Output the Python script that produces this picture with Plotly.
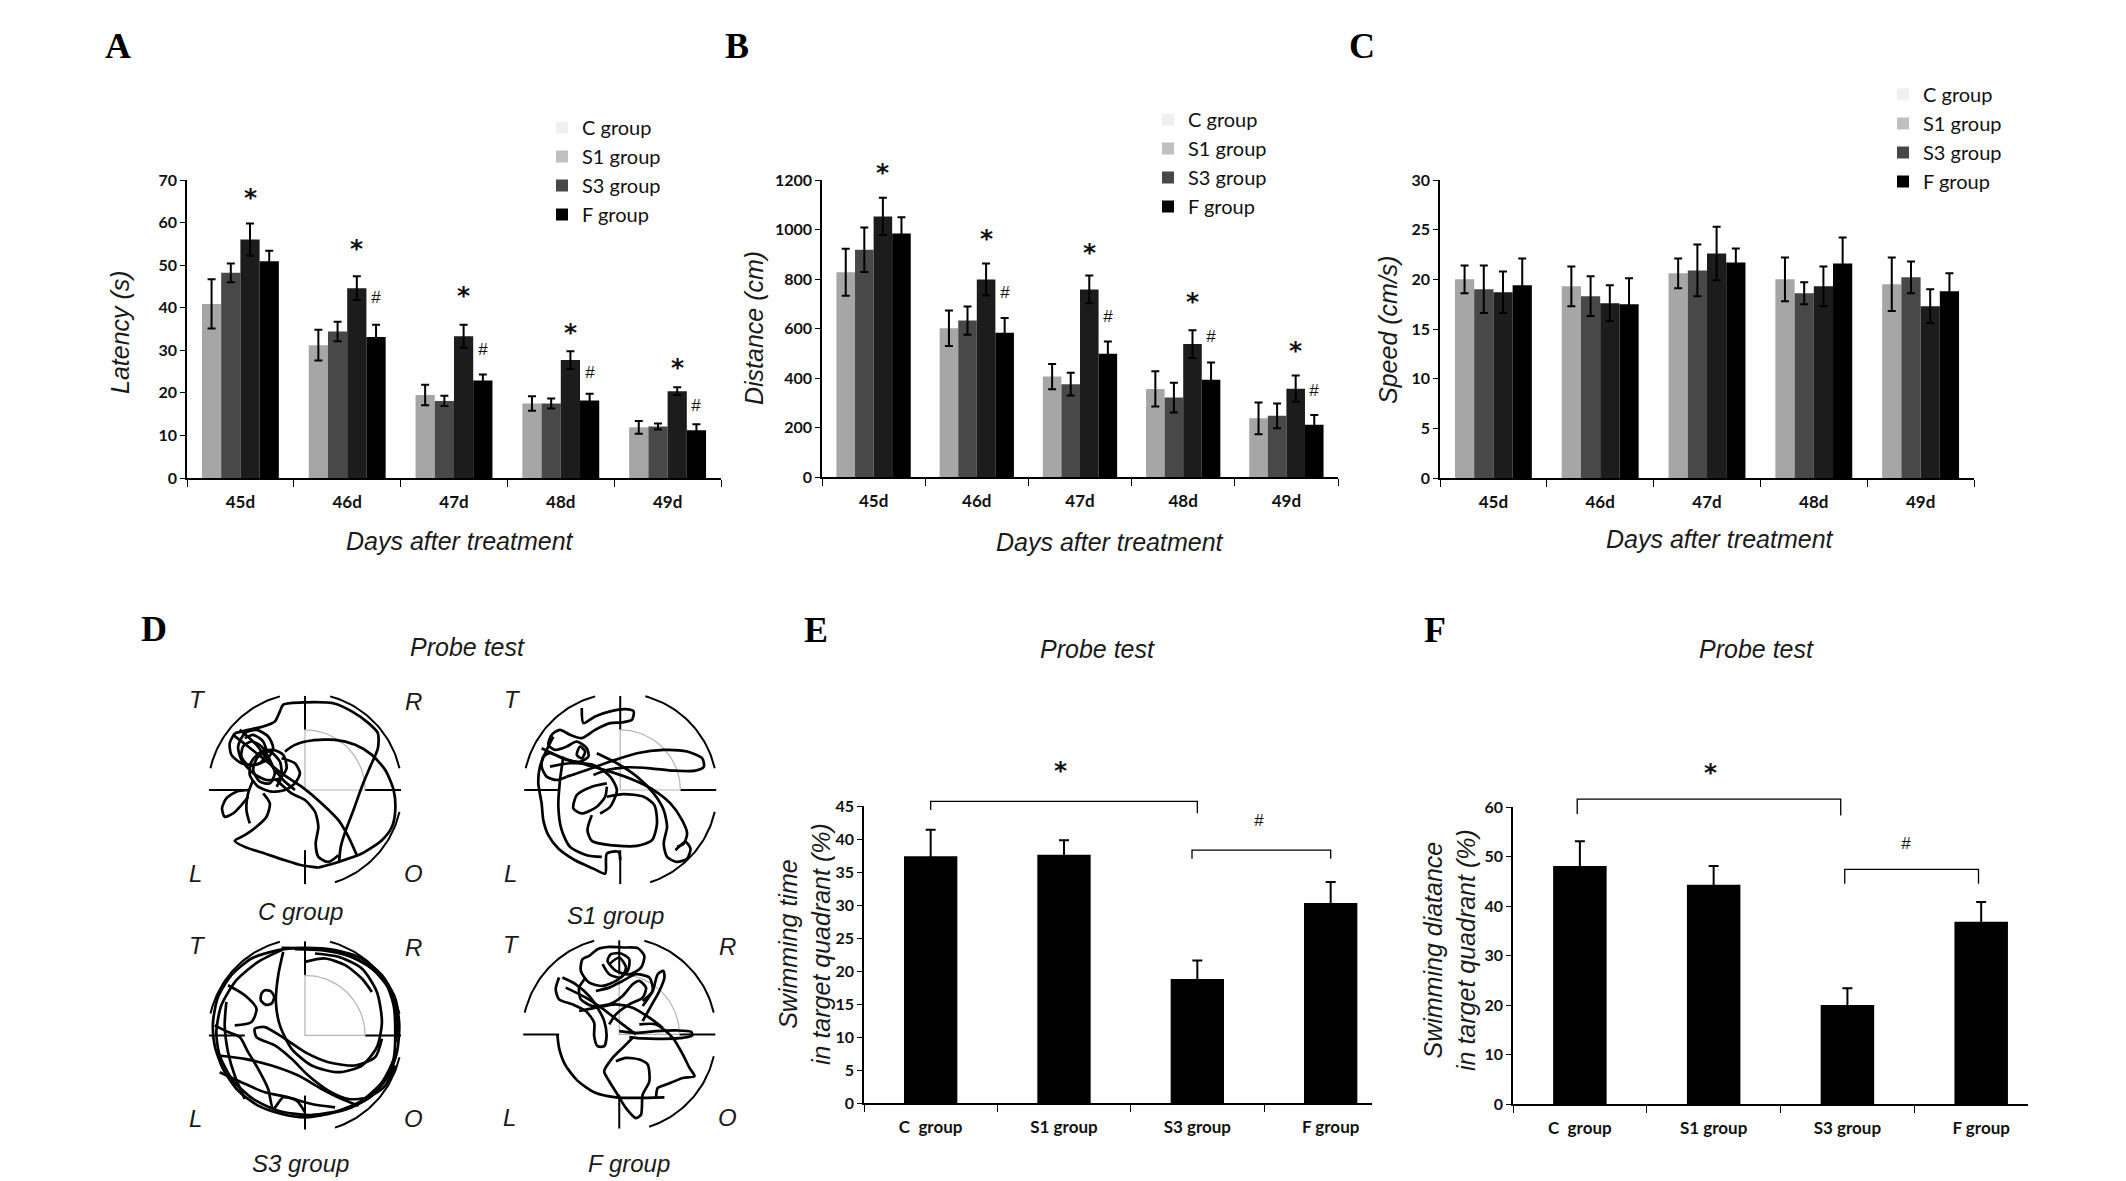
import numpy as np
import plotly.graph_objects as go

W, H = 2126, 1181

days = ["45d", "46d", "47d", "48d", "49d"]
groups = ["C group", "S1 group", "S3 group", "F group"]
probe_labels = ["C\u00a0 group", "S1 group", "S3 group", "F group"]

bar_colors = ["#a6a6a6", "#484848", "#1c1c1c", "#000000"]
legend_colors = ["#f0f0f0", "#c0c0c0", "#474747", "#000000"]

# panel A - latency (s), one list per bar of a day cluster
latency = [
    [40.9, 31.2, 19.5, 17.5, 11.9],
    [48.2, 34.4, 18.1, 17.5, 12.1],
    [56.0, 44.6, 33.3, 27.7, 20.4],
    [50.9, 33.1, 22.9, 18.2, 11.2],
]
latency_err = [
    [5.8, 3.6, 2.4, 1.7, 1.5],
    [2.2, 2.3, 1.2, 1.2, 0.7],
    [3.8, 2.8, 2.7, 2.1, 0.9],
    [2.5, 2.9, 1.4, 1.6, 1.4],
]
latency_star = [66.0, 54.0, 42.8, 34.1, 26.0]
latency_hash = [None, 42.4, 30.1, 24.8, 17.1]

# panel B - distance (cm)
distance = [
    [827, 601, 406, 356, 237],
    [918, 632, 375, 321, 247],
    [1053, 798, 758, 537, 357],
    [984, 583, 498, 393, 211],
]
distance_err = [
    [95, 72, 51, 71, 64],
    [90, 57, 46, 60, 50],
    [75, 65, 56, 56, 53],
    [65, 59, 49, 70, 40],
]
distance_star = [1229, 964, 908, 709, 513]
distance_hash = [None, 744, 649, 566, 350]

# panel C - speed (cm/s)
speed = [
    [20.0, 19.3, 20.6, 20.0, 19.5],
    [19.0, 18.3, 20.9, 18.6, 20.2],
    [18.7, 17.6, 22.6, 19.3, 17.3],
    [19.4, 17.5, 21.7, 21.6, 18.8],
]
speed_err = [
    [1.4, 2.0, 1.5, 2.2, 2.7],
    [2.4, 2.0, 2.6, 1.1, 1.6],
    [2.1, 1.8, 2.7, 2.0, 1.7],
    [2.7, 2.6, 1.4, 2.6, 1.8],
]

# panel E / F - probe test
probe_time = [37.4, 37.6, 18.8, 30.3]
probe_time_err = [4.0, 2.2, 2.8, 3.2]
probe_dist = [48.1, 44.3, 20.0, 36.8]
probe_dist_err = [5.0, 3.8, 3.4, 4.0]

time_star_x, time_star_y = [0, 0, 2, 2], [44.4, 45.7, 45.7, 43.9]
time_hash_x, time_hash_y = [1.96, 1.96, 3, 3], [37.0, 38.3, 38.3, 37.0]
time_marks = [("*", 0.97, 50.4), ("#", 2.46, 42.8)]
dist_star_x, dist_star_y = [-0.02, -0.02, 1.95, 1.95], [58.6, 61.6, 61.6, 58.3]
dist_hash_x, dist_hash_y = [1.98, 1.98, 2.98, 2.98], [44.5, 47.4, 47.4, 44.5]
dist_marks = [("*", 0.98, 66.9), ("#", 2.44, 52.6)]

# panel D - swim paths (image px, pool centre 330,330, wall radius 290)
path_c = [
    [(120, 160), (160, 150), (205, 140), (240, 125), (255, 95), (265, 75), (330, 68), (420, 72), (470, 95),
     (520, 130), (548, 160), (548, 205), (525, 260), (500, 320), (475, 390), (452, 450), (437, 500), (432, 545)],
    [(120, 160), (105, 190), (110, 225), (140, 250), (180, 255), (215, 240), (235, 205), (220, 170), (185, 150),
     (150, 160), (130, 200), (140, 240), (175, 280), (215, 300), (255, 295), (275, 265), (265, 225), (235, 210),
     (200, 215), (170, 245), (165, 285), (190, 320), (230, 335), (270, 330), (300, 310), (315, 280), (300, 250),
     (260, 235)],
    [(150, 175), (175, 165), (205, 185), (215, 220), (195, 250), (160, 255), (140, 230), (145, 200), (170, 185),
     (200, 200), (225, 240), (240, 280), (225, 310), (195, 305), (175, 270), (190, 230), (225, 215), (255, 245),
     (260, 290), (245, 320)],
    [(115, 165), (160, 200), (210, 240), (260, 280), (320, 320), (380, 370), (430, 420), (460, 470), (485, 525)],
    [(135, 150), (185, 195), (225, 250), (265, 300), (300, 330)],
    [(270, 215), (300, 195), (350, 182), (420, 180), (480, 195), (530, 225), (570, 270), (595, 330), (600, 390),
     (590, 440), (560, 480), (500, 520), (430, 545), (370, 562)],
    [(245, 300), (290, 340), (330, 360), (360, 395), (370, 440), (362, 490), (370, 530), (400, 545), (430, 525)],
    [(370, 562), (320, 555), (270, 540), (210, 520), (150, 500), (120, 482), (150, 465), (185, 440), (215, 410),
     (225, 370), (205, 340)],
    [(165, 330), (125, 335), (95, 355), (82, 385), (90, 410), (115, 400), (140, 375), (160, 350)],
    [(175, 300), (160, 340), (155, 390), (165, 430)],
]
path_s1 = [
    [(215, 85), (220, 130), (255, 110), (300, 95), (345, 88), (370, 95), (365, 120), (335, 128), (300, 130),
     (255, 150), (215, 175), (180, 165), (150, 150), (125, 165), (115, 195), (135, 210), (170, 200), (200, 185),
     (230, 205), (235, 230), (210, 245), (170, 240), (120, 220), (100, 230), (95, 260), (110, 290), (140, 300),
     (170, 290)],
    [(170, 290), (230, 270), (300, 245), (380, 220), (460, 210), (530, 215), (575, 235), (580, 260), (555, 272),
     (490, 272), (420, 265), (350, 262), (290, 270), (250, 285)],
    [(95, 205), (160, 235), (230, 255), (300, 275), (370, 300), (430, 330), (480, 370), (515, 420), (530, 460),
     (520, 490), (500, 500)],
    [(260, 220), (320, 250), (380, 290), (430, 340), (460, 390), (470, 440), (460, 490), (470, 530), (500, 545),
     (530, 535), (540, 505), (525, 485), (495, 510)],
    [(130, 170), (110, 210), (90, 260), (85, 310), (95, 370), (100, 420), (115, 465), (145, 505), (195, 540),
     (250, 565), (285, 580), (290, 520), (325, 515), (330, 540)],
    [(290, 310), (245, 320), (200, 345), (190, 385), (215, 400), (260, 380), (285, 350), (290, 320)],
    [(245, 405), (232, 450), (245, 482), (300, 495), (380, 497), (425, 480), (440, 430), (432, 375), (400, 350),
     (340, 342), (290, 350)],
    [(160, 230), (150, 300), (145, 380), (155, 450), (180, 500), (230, 525), (275, 530)],
    [(210, 200), (225, 215), (215, 235), (200, 225), (210, 200)],
    [(120, 260), (180, 250), (250, 255), (300, 290), (320, 330), (300, 380), (270, 400)],
]
path_s3 = [
    [(250, 75), (330, 68), (420, 75), (500, 100), (560, 150), (600, 220), (612, 300), (605, 380), (580, 450),
     (530, 510), (470, 545), (400, 565), (330, 575), (260, 565), (190, 540), (130, 495), (85, 430), (60, 360),
     (55, 290), (70, 215), (110, 150), (170, 100), (250, 75)],
    [(260, 68), (340, 70), (430, 82), (510, 115), (570, 170), (595, 240), (600, 320), (595, 400), (560, 470),
     (500, 525), (430, 555), (340, 568), (250, 555), (175, 520), (115, 465), (75, 390), (65, 320), (80, 240),
     (125, 165), (190, 110), (260, 75)],
    [(300, 72), (380, 75), (460, 92), (530, 130), (580, 190), (605, 270), (602, 350)],
    [(265, 80), (250, 150), (243, 230), (255, 300), (290, 370), (350, 420), (430, 440), (500, 420), (545, 365),
     (560, 290), (545, 200), (500, 130), (430, 95), (360, 85)],
    [(560, 340), (540, 395), (480, 420), (400, 410), (330, 380), (270, 340), (210, 305), (180, 310), (185, 335),
     (240, 360), (290, 400), (340, 450), (400, 495), (460, 520), (520, 515), (570, 480), (600, 420)],
    [(200, 205), (210, 195), (228, 198), (238, 215), (230, 235), (212, 238), (198, 225), (200, 205)],
    [(60, 300), (100, 320), (135, 335), (160, 380), (190, 430), (220, 490), (235, 550), (265, 515), (305, 525),
     (330, 560)],
    [(70, 390), (150, 400), (230, 420), (310, 450), (380, 490), (440, 520), (490, 540)],
    [(75, 440), (140, 470), (210, 500), (280, 515), (350, 535), (420, 545)],
    [(95, 230), (90, 300), (100, 380), (120, 450), (150, 520)],
    [(330, 110), (390, 100), (450, 120), (500, 160), (530, 200)],
    [(100, 180), (150, 210), (185, 250), (170, 290), (120, 300)],
]
path_f = [
    [(240, 95), (265, 75), (300, 68), (345, 70), (385, 72), (405, 95), (395, 130), (360, 150), (320, 140),
     (295, 110), (305, 90), (335, 88), (360, 105), (355, 140), (320, 170), (280, 185), (240, 175), (215, 140),
     (220, 105), (240, 95)],
    [(230, 160), (210, 190), (215, 225), (250, 245), (300, 240), (340, 215), (370, 180), (390, 170), (410, 190),
     (400, 220), (360, 240), (320, 270), (300, 300)],
    [(150, 160), (140, 195), (150, 225), (190, 240), (230, 260), (255, 295), (255, 335), (265, 365), (285, 365),
     (292, 335), (285, 290), (265, 250), (240, 215), (200, 180), (160, 160)],
    [(330, 320), (380, 325), (440, 320), (500, 318), (545, 322), (548, 333), (520, 340), (460, 343), (400, 342),
     (360, 338)],
    [(400, 245), (430, 200), (445, 150), (462, 140), (465, 160), (450, 200), (425, 245), (400, 290)],
    [(370, 340), (340, 370), (310, 400), (285, 440), (300, 470), (325, 510), (350, 550), (380, 580), (395, 570),
     (400, 510), (420, 470), (415, 420), (390, 405), (350, 400), (320, 410)],
    [(390, 300), (440, 300), (490, 340), (520, 390), (540, 430), (555, 455), (520, 460), (470, 480), (445, 490),
     (440, 520)],
    [(145, 330), (150, 370), (168, 420), (205, 468), (255, 503), (320, 518), (465, 518)],
    [(170, 190), (230, 220), (290, 260), (340, 300), (380, 330)],
    [(210, 260), (260, 250), (320, 240), (370, 250), (420, 280), (460, 310)],
    [(300, 120), (330, 100), (350, 130), (335, 160), (300, 150), (280, 120)],
    [(260, 200), (300, 190), (340, 170), (380, 150), (420, 160), (430, 200), (400, 230)],
]
pool_paths = [path_c, path_s1, path_s3, path_f]
pool_centres = [(0.0, 0.0), (3.25, 0.0), (0.0, -2.53), (3.24, -2.52)]
pool_name_y = [-1.25, -1.29, -1.32, -1.33]


def px_x(p):
    return p / W


def px_y(p):
    return 1 - p / H


offsets = [-0.27, -0.09, 0.09, 0.27]
bar_w = 0.18

fig = go.Figure()

ink = "#111111"
tick_font = dict(family="Lato", size=16, color=ink, weight="bold")
cat_font = dict(family="Lato", size=17, color=ink, weight="bold")
title_font = dict(family="Liberation Sans", size=25, color="#1a1a1a")
star_font = dict(family="DejaVu Sans", size=25, color=ink, weight="bold")
hash_font = dict(family="Liberation Sans", size=17, color=ink)

annotations = []


def mark(txt, x, y, ax):
    if txt == "*":
        return dict(x=x, y=y, xref="x" + ax, yref="y" + ax, text="*", showarrow=False, font=star_font,
                    xanchor="center", yanchor="middle")
    return dict(x=x, y=y, xref="x" + ax, yref="y" + ax, text="<i>#</i>", showarrow=False, font=hash_font,
                xanchor="center", yanchor="middle")


# -------------------------------
# GROUPED BAR PANELS A, B, C
# -------------------------------
panels = [
    ("", "", latency, latency_err, latency_star, latency_hash, "legend"),
    ("2", "7", distance, distance_err, distance_star, distance_hash, "legend2"),
    ("3", "", speed, speed_err, None, None, "legend3"),
]
for suffix, layer, values, errs, stars, hashes, leg in panels:
    for j in range(4):
        fig.add_trace(go.Bar(
            x=[i + offsets[j] for i in range(len(days))], y=values[j], width=bar_w,
            marker=dict(color=bar_colors[j], line=dict(width=0)),
            error_y=dict(type="data", array=errs[j], color="black", thickness=2, width=4),
            xaxis="x" + suffix, yaxis="y" + suffix, showlegend=False,
        ))
    # legend swatches
    for j in range(4):
        fig.add_trace(go.Bar(
            x=[None], y=[None], name=groups[j], marker=dict(color=legend_colors[j], line=dict(width=0)),
            xaxis="x" + suffix, yaxis="y" + suffix, legend=leg,
        ))
    if stars:
        ax = layer or suffix
        for i, v in enumerate(stars):
            annotations.append(mark("*", i + offsets[2], v, ax))
        for i, v in enumerate(hashes):
            if v is not None:
                annotations.append(mark("#", i + offsets[3], v, ax))

# -------------------------------
# PROBE TEST BARS E, F
# -------------------------------
probe = [
    ("4", "8", probe_time, probe_time_err, (time_star_x, time_star_y), (time_hash_x, time_hash_y), time_marks),
    ("5", "9", probe_dist, probe_dist_err, (dist_star_x, dist_star_y), (dist_hash_x, dist_hash_y), dist_marks),
]
for suffix, layer, values, errs, br1, br2, marks in probe:
    fig.add_trace(go.Bar(
        x=list(range(4)), y=values, width=0.4, marker=dict(color="black", line=dict(width=0)),
        error_y=dict(type="data", array=errs, color="black", thickness=2, width=5),
        xaxis="x" + suffix, yaxis="y" + suffix, showlegend=False,
    ))
    # significance brackets live on an invisible layer that reaches above the plot area
    for bx, by in (br1, br2):
        fig.add_trace(go.Scatter(
            x=bx, y=by, mode="lines", line=dict(color="black", width=1.3),
            xaxis="x" + layer, yaxis="y" + layer, showlegend=False, hoverinfo="skip",
        ))
    for txt, mx, my in marks:
        annotations.append(mark(txt, mx, my, layer))

# -------------------------------
# PANEL D - WATER MAZE TRACKS
# -------------------------------
R = 290.0
lab_font = dict(family="Liberation Sans", size=24, color="#1a1a1a")
for k, (cx, cy) in enumerate(pool_centres):
    # outer wall arcs (three quadrants)
    for a0, a1 in [(105, 167), (13, 75), (-13, -72)]:
        t = np.radians(np.linspace(a0, a1, 40))
        fig.add_trace(go.Scatter(x=cx + np.cos(t), y=cy + np.sin(t), mode="lines",
                                 line=dict(color="black", width=2), xaxis="x6", yaxis="y6",
                                 showlegend=False, hoverinfo="skip"))
    # quadrant dividers
    xs, ys = [], []
    for dx, dy in [(-1, 0), (1, 0), (0, 1), (0, -1)]:
        xs += [cx + dx * 0.62, cx + dx * 0.99, None]
        ys += [cy + dy * 0.62, cy + dy * 0.97, None]
    fig.add_trace(go.Scatter(x=xs, y=ys, mode="lines", line=dict(color="black", width=2),
                             xaxis="x6", yaxis="y6", showlegend=False, hoverinfo="skip"))
    # target quadrant outline (grey)
    t = np.radians(np.linspace(0, 90, 40))
    gx = [cx + 0.62] + list(cx + 0.62 * np.cos(t)) + [cx, cx, cx + 0.62]
    gy = [cy] + list(cy + 0.62 * np.sin(t)) + [cy + 0.62, cy, cy]
    fig.add_trace(go.Scatter(x=gx, y=gy, mode="lines", line=dict(color="#b4b4b4", width=1.2),
                             xaxis="x6", yaxis="y6", showlegend=False, hoverinfo="skip"))
    # swim path
    px, py = [], []
    for seg in pool_paths[k]:
        px += [cx + (p[0] - 330) / R for p in seg] + [None]
        py += [cy + (330 - p[1]) / R for p in seg] + [None]
    fig.add_trace(go.Scatter(x=px, y=py, mode="lines",
                             line=dict(color="black", width=2.7, shape="spline", smoothing=0.7),
                             connectgaps=False, xaxis="x6", yaxis="y6", showlegend=False, hoverinfo="skip"))
    for txt, lx, ly in [("T", -1.11, 0.93), ("R", 1.12, 0.91), ("L", -1.13, -0.86), ("O", 1.12, -0.86)]:
        annotations.append(dict(x=cx + lx, y=cy + ly, xref="x6", yref="y6", text="<i>%s</i>" % txt,
                                showarrow=False, font=lab_font, xanchor="center", yanchor="middle"))
    annotations.append(dict(x=cx + (0.1 if k == 3 else -0.05), y=cy + pool_name_y[k], xref="x6", yref="y6",
                            text="<i>%s</i>" % groups[k], showarrow=False, font=lab_font,
                            xanchor="center", yanchor="middle"))

# -------------------------------
# TEXT: PANEL LETTERS AND TITLES
# -------------------------------
for letter, lx, ly in [("A", 110, 38), ("B", 729, 38), ("C", 1354, 38),
                       ("D", 146, 621), ("E", 808, 622), ("F", 1427, 622)]:
    annotations.append(dict(x=px_x(lx), y=px_y(ly), xref="paper", yref="paper", text="<b>%s</b>" % letter,
                            showarrow=False, xanchor="center", yanchor="middle",
                            font=dict(family="Liberation Serif", size=36, color="black")))

for txt, tx, ty, ang in [
    ("Latency (s)", 112, 324, -90), ("Distance (cm)", 746, 320, -90), ("Speed (cm/s)", 1380, 322, -90),
    ("Days after treatment", 452, 533, 0), ("Days after treatment", 1102, 534, 0),
    ("Days after treatment", 1712, 531, 0),
    ("Probe test", 459, 639, 0), ("Probe test", 1089, 641, 0), ("Probe test", 1748, 641, 0),
    ("Swimming time<br>in target quadrant (%)", 796, 936, -90),
    ("Swimming diatance<br>in target quadrant (%)", 1441, 942, -90),
]:
    t = "<br>".join("<i>%s</i>" % s for s in txt.split("<br>"))
    annotations.append(dict(x=px_x(tx), y=px_y(ty), xref="paper", yref="paper", text=t, textangle=ang,
                            showarrow=False, xanchor="center", yanchor="middle", font=title_font))


# -------------------------------
# AXES
# -------------------------------
def bar_xaxis(x0, x1, anchor, n, rng, minor_vals):
    return dict(domain=[px_x(x0), px_x(x1)], anchor=anchor, range=rng, showgrid=False, zeroline=False,
                showline=True, linecolor="black", linewidth=1.6, ticks="", tickmode="array",
                tickvals=list(range(n)), tickfont=cat_font, ticklabelstandoff=8,
                minor=dict(tickmode="array", tickvals=minor_vals, ticks="outside", ticklen=7,
                           tickcolor="black", tickwidth=1.4, showgrid=False))


def bar_yaxis(y0, y1, anchor, rng, dtick):
    return dict(domain=[px_y(y1), px_y(y0)], anchor=anchor, range=rng, dtick=dtick, tick0=0,
                showgrid=False, zeroline=False, showline=True, linecolor="black", linewidth=1.6,
                ticks="outside", ticklen=5, tickwidth=1.4, tickcolor="black", tickfont=tick_font)


def layer_axes(x0, x1, rng, y0, y1, ymax, top):
    # invisible copy of a bar panel's scales, stretched upwards so marks above the axis top stay visible
    per_unit = (y0 - y1) / ymax
    xa = dict(domain=[px_x(x0), px_x(x1)], range=rng, visible=False, fixedrange=True)
    ya = dict(domain=[px_y(y0), px_y(top)], range=[0, (y0 - top) / per_unit], visible=False, fixedrange=True)
    return xa, ya


day_bounds = [-0.5, 0.5, 1.5, 2.5, 3.5, 4.5]
probe_bounds = [-0.5, 0.5, 1.5, 2.5]

layout = dict(
    xaxis=bar_xaxis(179, 713, "y", 5, [-0.5, 4.5], day_bounds),
    yaxis=bar_yaxis(172, 470, "x", [0, 70], 10),
    xaxis2=bar_xaxis(814, 1330, "y2", 5, [-0.5, 4.5], day_bounds),
    yaxis2=bar_yaxis(172, 469, "x2", [0, 1200], 200),
    xaxis3=bar_xaxis(1432, 1966, "y3", 5, [-0.5, 4.5], day_bounds),
    yaxis3=bar_yaxis(172, 470, "x3", [0, 30], 5),
    xaxis4=bar_xaxis(856, 1364, "y4", 4, [-0.5, 3.31], probe_bounds),
    yaxis4=bar_yaxis(798, 1095, "x4", [0, 45], 5),
    xaxis5=bar_xaxis(1505, 2020, "y5", 4, [-0.5, 3.35], probe_bounds),
    yaxis5=bar_yaxis(799, 1096, "x5", [0, 60], 10),
    xaxis6=dict(domain=[px_x(170), px_x(720)], anchor="y6", range=[-1.309, 4.361], visible=False),
    yaxis6=dict(domain=[px_y(1180), px_y(660)], anchor="x6", range=[-4.103, 1.258], visible=False),
)
for n, args in [("7", (814, 1330, [-0.5, 4.5], 469, 172, 1200, 110)),
                ("8", (856, 1364, [-0.5, 3.31], 1095, 798, 45, 690)),
                ("9", (1505, 2020, [-0.5, 3.35], 1096, 799, 60, 690))]:
    xa, ya = layer_axes(*args)
    xa["anchor"], ya["anchor"] = "y" + n, "x" + n
    layout["xaxis" + n], layout["yaxis" + n] = xa, ya
for ax in ["xaxis", "xaxis2", "xaxis3"]:
    layout[ax]["ticktext"] = days
for ax in ["xaxis4", "xaxis5"]:
    layout[ax]["ticktext"] = probe_labels


def legend_at(x, y):
    return dict(x=px_x(x), y=px_y(y), xanchor="left", yanchor="top", bgcolor="rgba(0,0,0,0)",
                font=dict(family="Lato", size=20, color=ink), itemwidth=30, tracegroupgap=0,
                itemclick=False, itemdoubleclick=False)


fig.update_layout(
    **layout,
    legend=legend_at(534, 100),
    legend2=legend_at(1140, 92),
    legend3=legend_at(1875, 67),
    barmode="overlay",
    annotations=annotations,
    width=W, height=H, autosize=False,
    margin=dict(l=0, r=0, t=0, b=0),
    paper_bgcolor="white", plot_bgcolor="rgba(0,0,0,0)",
    template="none",
)

fig.write_html("out.html")
